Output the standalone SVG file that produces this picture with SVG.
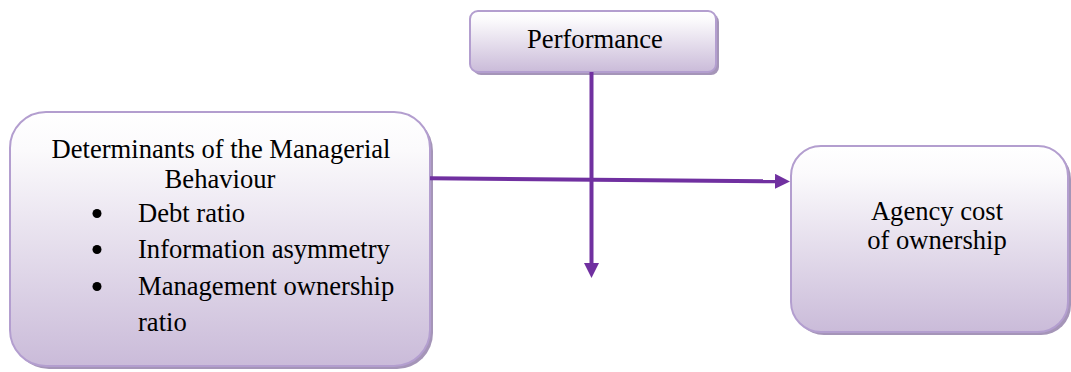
<svg xmlns="http://www.w3.org/2000/svg" width="1071" height="372" viewBox="0 0 1071 372">
  <style>
    .box { stroke: #b39ecf; stroke-width: 2; }
    .shadow { fill: #a595b8; }
    text { font-family: 'Liberation Serif', 'Times New Roman', 'DejaVu Serif', serif; font-size: 26.6px; fill: #000; }
    .c { text-anchor: middle; }
    .conn { stroke: #7030a0; stroke-width: 4; fill: none; }
  </style>
  <defs>
    <linearGradient id="g" x1="0" y1="0" x2="0" y2="1">
      <stop offset="0" stop-color="#ffffff"/>
      <stop offset="0.15" stop-color="#fbfafc"/>
      <stop offset="1" stop-color="#cabbd9"/>
    </linearGradient>
    <marker id="ah" markerUnits="userSpaceOnUse" markerWidth="16" markerHeight="16" refX="0" refY="7.5" orient="auto">
      <polygon points="0,0 15,7.5 0,15" fill="#7030a0"/>
    </marker>
  </defs>

  <g id="performance">
    <rect class="shadow" x="473" y="14" width="246" height="61" rx="8"/>
    <rect class="box" x="470" y="11" width="246" height="61" rx="8" fill="url(#g)"/>
    <text class="c" x="595" y="48" font-family="Liberation Serif, Times New Roman, DejaVu Serif, serif">Performance</text>
  </g>

  <g id="determinants">
    <rect class="shadow" x="13" y="115" width="420" height="254" rx="36"/>
    <rect class="box" x="10" y="112" width="420" height="254" rx="36" fill="url(#g)"/>
    <text class="c" x="221" y="158" font-family="Liberation Serif, Times New Roman, DejaVu Serif, serif">Determinants of the Managerial</text>
    <text class="c" x="220" y="188" font-family="Liberation Serif, Times New Roman, DejaVu Serif, serif">Behaviour</text>
    <circle cx="97" cy="213.5" r="4.5" fill="#000"/>
    <text x="138" y="222" font-family="Liberation Serif, Times New Roman, DejaVu Serif, serif">Debt ratio</text>
    <circle cx="97" cy="249.5" r="4.5" fill="#000"/>
    <text x="138" y="258" font-family="Liberation Serif, Times New Roman, DejaVu Serif, serif">Information asymmetry</text>
    <circle cx="97" cy="286.5" r="4.5" fill="#000"/>
    <text x="138" y="295" font-family="Liberation Serif, Times New Roman, DejaVu Serif, serif">Management ownership</text>
    <text x="138" y="331" font-family="Liberation Serif, Times New Roman, DejaVu Serif, serif">ratio</text>
  </g>

  <g id="agency">
    <rect class="shadow" x="794" y="149" width="277" height="186" rx="30"/>
    <rect class="box" x="791" y="146" width="277" height="186" rx="30" fill="url(#g)"/>
    <text class="c" x="937" y="220" font-family="Liberation Serif, Times New Roman, DejaVu Serif, serif">Agency cost</text>
    <text class="c" x="937" y="249" font-family="Liberation Serif, Times New Roman, DejaVu Serif, serif">of ownership</text>
  </g>

  <g id="connectors">
    <path class="conn" d="M591.5,72 L591.5,263" marker-end="url(#ah)"/>
    <path class="conn" d="M430,178.3 L775,181.3" marker-end="url(#ah)"/>
  </g>
</svg>
